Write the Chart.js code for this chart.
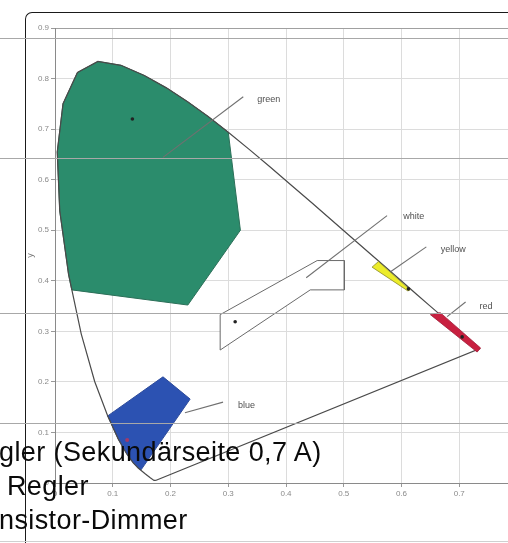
<!DOCTYPE html>
<html>
<head>
<meta charset="utf-8">
<script src="https://cdn.jsdelivr.net/npm/chart.js@4.4.1/dist/chart.umd.min.js"></script>
<style>
  html, body { margin:0; padding:0; width:508px; height:543px; overflow:hidden; background:#fff; }
  #wrap { position:relative; width:508px; height:543px; overflow:hidden; }
  canvas { position:absolute; left:0; top:0; }
  .hl { position:absolute; left:0; width:508px; height:1px; background:#a8a8a8; }
  .frame { position:absolute; left:25px; top:12px; width:600px; height:600px; border-top:1.5px solid #1a1a1a; border-left:1.5px solid #1a1a1a; border-top-left-radius:7px; }
  .txt { position:absolute; font-family:"Liberation Sans", Arial, sans-serif; font-size:27px; line-height:27px; color:#0a0a0a; white-space:nowrap; letter-spacing:0.4px; }
</style>
</head>
<body>
<div id="wrap">
  <canvas id="c" width="525" height="543"></canvas>
  <div class="frame"></div>
  <div class="hl" style="top:38px"></div>
  <div class="hl" style="top:158px"></div>
  <div class="hl" style="top:313px"></div>
  <div class="hl" style="top:423px"></div>
  <div class="hl" style="top:541px;background:#d0d0d0"></div>
  <div class="txt" style="left:-1px;top:439px">gler (Sekundärseite 0,7 A)</div>
  <div class="txt" style="left:-1px;top:473px">&nbsp;Regler</div>
  <div class="txt" style="left:-1px;top:507px">nsistor-Dimmer</div>
</div>
<script>
// Tick values
const xTicks = [0, 0.1, 0.2, 0.3, 0.4, 0.5, 0.6, 0.7, 0.8];
const yTicks = [0, 0.1, 0.2, 0.3, 0.4, 0.5, 0.6, 0.7, 0.8, 0.9];

// Spectral locus (closed with purple line)
const locusX = [0.1741,0.1714,0.1644,0.1566,0.1440,0.1355,0.1241,0.1096,0.0913,0.0687,0.0454,0.0235,0.0082,0.0039,0.0139,0.0389,0.0743,0.1142,0.1547,0.1929,0.2296,0.2658,0.3016,0.3373,0.3731,0.4087,0.4441,0.4788,0.5125,0.5448,0.5752,0.6029,0.6270,0.6482,0.6658,0.6915,0.7079,0.7190,0.7260,0.7300,0.7347,0.1741];
const locusY = [0.0050,0.0051,0.0109,0.0177,0.0297,0.0399,0.0578,0.0868,0.1327,0.2007,0.2950,0.4127,0.5384,0.6548,0.7502,0.8120,0.8338,0.8262,0.8059,0.7816,0.7543,0.7243,0.6923,0.6589,0.6245,0.5896,0.5547,0.5202,0.4866,0.4544,0.4242,0.3965,0.3725,0.3514,0.3340,0.3083,0.2920,0.2809,0.2740,0.2700,0.2653,0.0050];

// Regions
const greenX = [0.029,0.0235,0.0082,0.0039,0.0139,0.0389,0.0743,0.1142,0.1547,0.1929,0.2296,0.2658,0.300,0.321,0.230,0.029];
const greenY = [0.382,0.4127,0.5384,0.6548,0.7502,0.8120,0.8338,0.8262,0.8059,0.7816,0.7543,0.7243,0.694,0.500,0.352,0.382];
const blueX = [0.0913,0.187,0.234,0.149,0.1440,0.1355,0.1241,0.1096,0.0913];
const blueY = [0.1327,0.210,0.166,0.026,0.0297,0.0399,0.0578,0.0868,0.1327];
const whiteX = [0.286,0.454,0.501,0.501,0.442,0.286,0.286];
const whiteY = [0.333,0.440,0.440,0.382,0.382,0.263,0.333];
const yellowX = [0.549,0.560,0.615,0.611,0.549];
const yellowY = [0.427,0.438,0.382,0.380,0.427];
const redX = [0.650,0.667,0.737,0.731,0.650];
const redY = [0.333,0.337,0.267,0.259,0.333];

// Centre markers
const markX = [0.134,0.312,0.612,0.705];
const markY = [0.720,0.319,0.384,0.289];
const blueMarkX = [0.125];
const blueMarkY = [0.085];

// Leader lines and labels
const labelNames = ['green','white','yellow','red','blue'];
const leadX1 = [0.187,0.435,0.581,0.679,0.225];
const leadY1 = [0.644,0.406,0.418,0.329,0.139];
const leadX2 = [0.326,0.575,0.643,0.711,0.291];
const leadY2 = [0.764,0.529,0.467,0.358,0.160];
const labelX = [0.350,0.603,0.668,0.735,0.317];
const labelY = [0.758,0.527,0.461,0.350,0.154];

function pts(xs, ys){ return xs.map((x,i)=>({x:x, y:ys[i]})); }

function poly(label, xs, ys, fillColor, lineColor, order, width){
  return { label, data: pts(xs,ys), showLine:true, fill:'shape', backgroundColor:fillColor,
    borderColor:lineColor, borderWidth:width, pointRadius:0, tension:0, order };
}

const datasets = [];
datasets.push(poly('locus', locusX, locusY, 'rgba(0,0,0,0)', '#4a4a4a', 5, 1.2));
datasets[0].fill = false;
datasets.push(poly('green', greenX, greenY, '#2b8c6c', '#2b6f58', 6, 1));
datasets.push(poly('blue', blueX, blueY, '#2c52b2', '#2c4a9a', 6, 1));
datasets.push(poly('white', whiteX, whiteY, '#ffffff', '#6a6a6a', 6, 1));
datasets.push(poly('yellow', yellowX, yellowY, '#ecec2a', '#8a8a30', 4, 0.8));
datasets.push(poly('red', redX, redY, '#c82040', '#a01a36', 4, 0.8));
labelNames.forEach((n,i)=>{
  datasets.push({ label:'lead-'+n, data:[{x:leadX1[i],y:leadY1[i]},{x:leadX2[i],y:leadY2[i]}],
    showLine:true, borderColor:'#707070', borderWidth:1.1, pointRadius:0, fill:false, order:3 });
});
datasets.push({ label:'marks', data:pts(markX,markY), showLine:false, pointRadius:1.8,
  pointBackgroundColor:'#222', pointBorderWidth:0, order:1 });
datasets.push({ label:'bluemark', data:pts(blueMarkX,blueMarkY), showLine:false, pointRadius:2,
  pointBackgroundColor:'#a03a6a', pointBorderWidth:0, order:1 });

const labelPlugin = {
  id:'regionLabels',
  afterDatasetsDraw(chart){
    const {ctx, scales:{x, y}} = chart;
    ctx.save();
    ctx.font = '9px "Liberation Sans", Arial, sans-serif';
    ctx.fillStyle = '#505050';
    ctx.textBaseline = 'middle';
    ctx.textAlign = 'left';
    labelNames.forEach((n,i)=>{
      ctx.fillText(n, x.getPixelForValue(labelX[i]), y.getPixelForValue(labelY[i]));
    });
    ctx.restore();
  }
};

new Chart(document.getElementById('c'), {
  type:'scatter',
  data:{ datasets },
  options:{
    responsive:false,
    animation:false,
    events:[],
    layout:{ padding:{ top:28, right:8, left:0, bottom:0 } },
    plugins:{ legend:{display:false}, tooltip:{enabled:false} },
    scales:{
      x:{
        type:'linear', min:0, max:0.8,
        afterBuildTicks(s){ s.ticks = xTicks.map(v=>({value:v})); },
        afterFit(s){ s.height = 60; },
        grid:{ color:'#dcdcdc', lineWidth:1, tickLength:4, tickColor:'#999' },
        border:{ color:'#8a8a8a', width:1 },
        ticks:{ color:'#8a8a8a', font:{ size:8, family:'"Liberation Sans", Arial, sans-serif' }, padding:2, maxRotation:0,
          callback:(v)=>v.toFixed(1).replace(/^0\.0$/,'0') }
      },
      y:{
        type:'linear', min:0, max:0.9,
        afterBuildTicks(s){ s.ticks = yTicks.map(v=>({value:v})); },
        afterFit(s){ s.width = 55; },
        grid:{ color:(c)=> c.tick && c.tick.value===0.9 ? '#a0a0a0' : '#dcdcdc', lineWidth:1, tickLength:4, tickColor:'#999' },
        border:{ color:'#8a8a8a', width:1 },
        title:{ display:true, text:'y', color:'#777', font:{ size:9, family:'"Liberation Sans", Arial, sans-serif' }, padding:{top:25, bottom:0} },
        ticks:{ color:'#8a8a8a', font:{ size:8, family:'"Liberation Sans", Arial, sans-serif' }, padding:2,
          callback:(v)=>v.toFixed(1).replace(/^0\.0$/,'0') }
      }
    }
  },
  plugins:[labelPlugin]
});
</script>
</body>
</html>
